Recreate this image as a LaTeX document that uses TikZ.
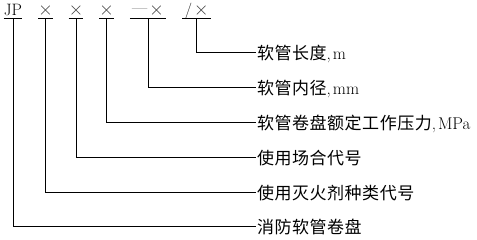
\documentclass[tikz,border=0pt]{standalone}
\usepackage{fontspec}
\newfontfamily\cjkfont[LetterSpace=3]{Noto Sans CJK SC}
\newcommand\zhtext[1]{{\cjkfont\fontsize{17}{17}\selectfont #1}}
\newcommand\xmark{{\fontsize{20}{20}\selectfont\texttimes}}
\begin{document}
\begin{tikzpicture}[x=1pt,y=-1pt,
  codebox/.style={anchor=south,inner xsep=0pt,inner ysep=3pt,text height=11pt,text depth=0pt,
    font=\fontsize{16.5}{17}\selectfont},
  labbox/.style={anchor=west,inner xsep=1pt,inner ysep=0pt,text height=13pt,text depth=0pt,
    font=\fontsize{17}{17}\selectfont},
  conn/.style={line width=1pt},
  uline/.style={line width=0.9pt}]
\useasboundingbox (0,0) rectangle (477,240);
% top code row
\node[codebox,minimum width=18pt] (t1) at (13,18.5) {JP};
\node[codebox,minimum width=13pt,text=black!80] (t2) at (45.5,18.5) {\xmark};
\node[codebox,minimum width=13pt,text=black!80] (t3) at (76,18.5) {\xmark};
\node[codebox,minimum width=13pt,text=black!80] (t4) at (106.5,18.5) {\xmark};
\node[codebox,minimum width=36pt,text=black!80] (t5) at (148,18.5) {\raisebox{1.5pt}{—}\hspace{2pt}\xmark};
\node[codebox,minimum width=28pt,text=black!80] (t6) at (196.5,18.5) {/\hspace{2pt}\xmark};
\foreach \t in {t1,t2,t3,t4,t5,t6}
  \draw[uline] (\t.south west) -- (\t.south east);
% labels
\node[labbox] (l1) at (256,53) {\zhtext{软管长度},\kern2pt m};
\node[labbox] (l2) at (256,88) {\zhtext{软管内径},\kern2pt mm};
\node[labbox] (l3) at (256,123) {\zhtext{软管卷盘额定工作压力},\kern2pt MPa};
\node[labbox] (l4) at (256,158) {\zhtext{使用场合代号}};
\node[labbox] (l5) at (256,193) {\zhtext{使用灭火剂种类代号}};
\node[labbox] (l6) at (256,227) {\zhtext{消防软管卷盘}};
% connectors
\draw[conn] (t6.south) |- (l1.west);
\draw[conn] (t5.south) |- (l2.west);
\draw[conn] (t4.south) |- (l3.west);
\draw[conn] (t3.south) |- (l4.west);
\draw[conn] (t2.south) |- (l5.west);
\draw[conn] (t1.south) |- (l6.west);
\end{tikzpicture}
\end{document}
